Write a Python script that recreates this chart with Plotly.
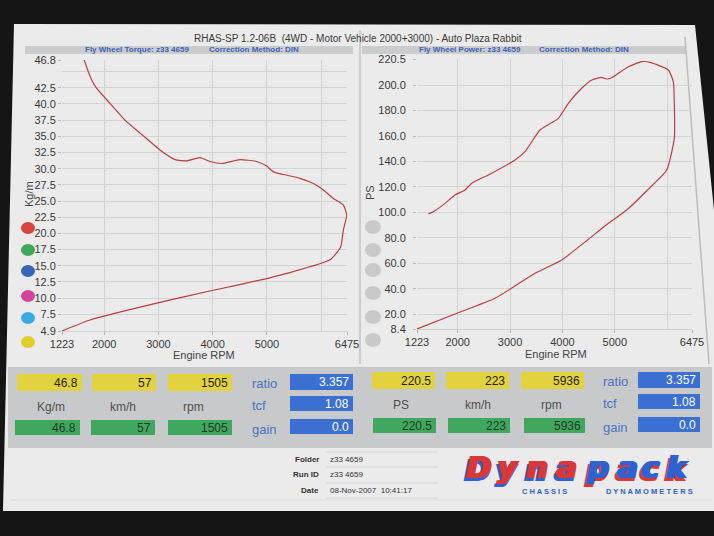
import plotly.graph_objects as go

# ---------------- data ----------------
torque_rpm = [1634, 1689, 1770, 1863, 2108, 2384, 2661, 3029, 3306, 3521, 3766, 3951, 4166,
              4503, 4811, 4996, 5117, 5302, 5609, 5855, 6039, 6223, 6407, 6470, 6407, 6359,
              6162, 5364, 4996, 4012, 2968, 1739, 1223]
torque_kgm = [46.8, 45.4, 43.7, 42.4, 40.1, 37.5, 35.5, 32.9, 31.4, 31.2, 31.7, 31.1, 30.8,
              31.4, 31.1, 30.4, 29.5, 29.1, 28.5, 27.7, 26.7, 25.4, 24.4, 22.8, 20.5, 17.9,
              15.9, 13.8, 13.0, 11.2, 9.2, 6.6, 4.9]

power_rpm = [1439, 1567, 1758, 1949, 2140, 2268, 2585, 3095, 3286, 3572, 3922, 4113, 4369,
             4560, 4751, 4846, 4942, 5259, 5515, 5673, 6023, 6118, 6137, 6137, 5992, 5625,
             5228, 4877, 3987, 3477, 2713, 1949, 1223]
power_ps = [98.7, 101.3, 107.1, 113.7, 117.6, 122.9, 129.4, 141.2, 147.7, 164.7, 173.9, 185.7,
            197.5, 204.0, 206.1, 204.8, 205.8, 214.4, 218.4, 217.9, 211.9, 202.7, 185.7, 158.2,
            133.3, 117.6, 101.9, 91.4, 62.6, 52.2, 32.5, 20.2, 8.4]

rpm_ticks = [1223, 2000, 3000, 4000, 5000, 6475]
rpm_grid = [2000, 3000, 4000, 5000, 6000]
torque_ticks = [4.9, 7.5, 10.0, 12.5, 15.0, 17.5, 20.0, 22.5, 25.0, 27.5, 30.0, 32.5, 35.0,
                37.5, 40.0, 42.5, 46.8]
torque_grid = [7.5, 10.0, 12.5, 15.0, 17.5, 20.0, 22.5, 25.0, 27.5, 30.0, 32.5, 35.0, 37.5,
               40.0, 42.5, 45.0]
power_ticks = [8.4, 20.0, 40.0, 60.0, 80.0, 100.0, 120.0, 140.0, 160.0, 180.0, 200.0, 220.5]
power_grid = [20.0, 40.0, 60.0, 80.0, 100.0, 120.0, 140.0, 160.0, 180.0, 200.0]

title_text = "RHAS-SP 1.2-06B\u00a0 (4WD - Motor Vehicle 2000+3000) - Auto Plaza Rabbit"
left_header = ["Fly Wheel Torque: z33 4659", "Correction Method: DIN"]
right_header = ["Fly Wheel Power: z33 4659", "Correction Method: DIN"]

left_top_values = ["46.8", "57", "1505"]
left_bottom_values = ["46.8", "57", "1505"]
left_units = ["Kg/m", "km/h", "rpm"]
right_top_values = ["220.5", "223", "5936"]
right_bottom_values = ["220.5", "223", "5936"]
right_units = ["PS", "km/h", "rpm"]
factor_labels = ["ratio", "tcf", "gain"]
left_factor_values = ["3.357", "1.08", "0.0"]
right_factor_values = ["3.357", "1.08", "0.0"]

footer_labels = ["Folder", "Run ID", "Date"]
footer_values = ["z33 4659", "z33 4659", "08-Nov-2007\u00a0\u00a010:41:17"]
logo_word = "Dynapack"
logo_sub = ["C H A S S I S", "D Y N A M O M E T E R S"]

# ---------------- helpers ----------------
W, H = 714, 536
FONT = "Liberation Sans, Arial, sans-serif"


def X(px):
    return px / W


def Y(py):
    return 1 - py / H


shapes = []
annotations = []


def rect(x0, y0, x1, y1, fill, line=None, layer="below"):
    shapes.append(dict(type="rect", xref="paper", yref="paper", x0=X(x0), x1=X(x1),
                       y0=Y(y1), y1=Y(y0), fillcolor=fill, layer=layer,
                       line=dict(width=0) if line is None else line))


def ellipse(cx, cy, rx, ry, fill):
    shapes.append(dict(type="circle", xref="paper", yref="paper", x0=X(cx - rx), x1=X(cx + rx),
                       y0=Y(cy + ry), y1=Y(cy - ry), fillcolor=fill, line=dict(width=0),
                       layer="above"))


def line(x0, y0, x1, y1, color, width=1):
    shapes.append(dict(type="line", xref="paper", yref="paper", x0=X(x0), x1=X(x1),
                       y0=Y(y0), y1=Y(y1), line=dict(color=color, width=width), layer="below"))


def text(x, y, s, size=11, color="#333", anchor="center", weight="normal", style="normal",
         family=FONT, angle=0, shadow="none"):
    annotations.append(dict(x=X(x), y=Y(y), xref="paper", yref="paper", text=s, showarrow=False,
                            xanchor=anchor, yanchor="middle", textangle=angle,
                            font=dict(size=size, color=color, family=family, weight=weight,
                                      style=style, shadow=shadow)))


# paper sheet
path = "M {} {} L {} {} L {} {} L {} {} L {} {} Z".format(
    X(14), Y(24), X(695), Y(25), X(714), Y(210), X(714), Y(511), X(3), Y(511))
shapes.append(dict(type="path", xref="paper", yref="paper", path=path, fillcolor="#ebebeb",
                   line=dict(width=0), layer="below"))

# header bands
rect(25, 46, 353, 54, "#cbcccd")
rect(362, 46, 686, 54, "#cbcccd")
line(360, 30, 360, 364, "#c2c2c2", 1.5)
line(685, 37, 709, 364, "#bdbdbd", 1.5)

HEAD_BLUE = "#3d63b3"
text(358, 38, title_text, size=10, color="#3a3a3a")
text(83, 50, left_header[0], size=8, color=HEAD_BLUE, anchor="left", weight="bold")
text(207, 50, left_header[1], size=8, color=HEAD_BLUE, anchor="left", weight="bold")
text(417, 50, right_header[0], size=8, color=HEAD_BLUE, anchor="left", weight="bold")
text(537, 50, right_header[1], size=8, color=HEAD_BLUE, anchor="left", weight="bold")

# axis titles
text(204, 355, "Engine RPM", size=11, color="#444")
text(556, 354, "Engine RPM", size=11, color="#444")
text(29, 194, "Kg/m", size=11, color="#444", angle=-90)
text(370, 193, "PS", size=11, color="#444", angle=-90)

# side dots
dot_colors = ["#d8463f", "#3ea75a", "#3a64b8", "#d3449d", "#3aa9e6", "#e0cd2a"]
dot_y = [228, 250, 271, 296, 318, 342]
for c, yy in zip(dot_colors, dot_y):
    ellipse(28, yy, 7, 6, c)
gray_y = [227, 250, 270, 293, 317, 340]
for yy in gray_y:
    ellipse(373, yy, 8, 7, "#c9c9c9")

# stats panel
rect(8, 367, 712, 448, "#c8c9cb")
YEL, GRN, BLU = "#e2d33e", "#3fa85e", "#3b70d2"


def panel(dy, top_vals, bot_vals, units, fvals, top_boxes, bot_boxes, unit_x, lab_x, blue_x):
    for (x0, x1), v in zip(top_boxes, top_vals):
        rect(x0, 374 + dy, x1, 391 + dy, YEL)
        text(x1 - 2, 383 + dy, v, size=12, color="#222", anchor="right")
    for (x0, x1), v in zip(bot_boxes, bot_vals):
        rect(x0, 420 + dy, x1, 435 + dy, GRN)
        text(x1 - 2, 428 + dy, v, size=12, color="#1f3a25", anchor="right")
    for ux, u in zip(unit_x, units):
        text(ux, 407 + dy, u, size=12, color="#505050")
    rows = [(374, 390), (396, 411), (419, 434)]
    ly = [383, 405, 429]
    for (y0, y1), yy, lab, v in zip(rows, ly, factor_labels, fvals):
        text(lab_x, yy + dy, lab, size=13, color="#4c72c4", anchor="left")
        rect(blue_x[0], y0 + dy, blue_x[1], y1 + dy, BLU)
        text(blue_x[1] - 2, (y0 + y1) / 2 + dy, v, size=12, color="#ffffff", anchor="right")


panel(0, left_top_values, left_bottom_values, left_units, left_factor_values,
      [(17, 82), (92, 156), (168, 232)], [(15, 80), (91, 155), (168, 232)],
      [51, 123, 194], 250, (290, 353))
panel(-2, right_top_values, right_bottom_values, right_units, right_factor_values,
      [(372, 435), (446, 509), (521, 584)], [(373, 436), (448, 510), (524, 585)],
      [401, 478, 551], 601, (638, 700))

# footer
for yy in [452, 467, 483, 498]:
    line(326, yy, 438, yy, "#d6d6d6", 1)
line(10, 500, 712, 500, "#dcdcdc", 1)
for yy, lab, val in zip([459, 474, 490], footer_labels, footer_values):
    text(321, yy, lab, size=8, color="#333", anchor="right", weight="bold")
    text(328, yy, val, size=8, color="#333", anchor="left")

# logo
RED, LBLUE = "#d8383a", "#2d62cf"
logo_x = [479, 507, 536, 566, 597, 627, 650, 677]
for i, (ch, lx) in enumerate(zip(logo_word, logo_x)):
    col, sh = (RED, LBLUE) if i < 4 else (LBLUE, RED)
    shadow = ("1px 0px 0px {c}, 2px 0px 0px {c}, 3px 0px 0px {c}, "
              "-2px 3px 0px {s}, 0px 3px 0px {s}, 2px 3px 0px {s}").format(c=col, s=sh)
    text(lx - 1, 467, ch, size=30, color=col, weight="bold", style="italic",
         family="DejaVu Sans, sans-serif", shadow=shadow)
text(544, 491, logo_sub[0], size=7.5, color=LBLUE, weight="bold")
text(649, 491, logo_sub[1], size=7.5, color=LBLUE, weight="bold")

# ---------------- figure ----------------
fig = go.Figure()
CURVE = "#b9403f"
fig.add_trace(go.Scatter(x=torque_rpm, y=torque_kgm, mode="lines", xaxis="x", yaxis="y",
                         line=dict(color=CURVE, width=1.2, shape="spline", smoothing=0.5),
                         showlegend=False, hoverinfo="skip"))
fig.add_trace(go.Scatter(x=power_rpm, y=power_ps, mode="lines", xaxis="x2", yaxis="y2",
                         line=dict(color=CURVE, width=1.2, shape="spline", smoothing=0.5),
                         showlegend=False, hoverinfo="skip"))

GRID = "#d3d3d3"
TICKF = dict(size=11, color="#3a3a3a", family=FONT)


def xaxis(domain, anchor):
    return dict(domain=domain, anchor=anchor, range=[1223, 6475], tickmode="array",
                tickvals=rpm_ticks, ticktext=[str(v) for v in rpm_ticks], showgrid=False,
                zeroline=False, automargin=False,
                ticks="outside", ticklen=3, tickcolor="#b5b5b5", tickfont=TICKF,
                showline=True, linecolor="#cfcfcf", linewidth=1,
                minor=dict(tickmode="array", tickvals=rpm_grid, showgrid=True,
                           gridcolor=GRID, gridwidth=1, ticks=""),
                fixedrange=True)


def yaxis(domain, rng, ticks, grid, anchor, standoff):
    return dict(domain=domain, range=rng, anchor=anchor, tickmode="array", tickvals=ticks,
                ticktext=["{:.1f}".format(v) for v in ticks], showgrid=False, zeroline=False,
                automargin=False,
                ticks="outside", ticklen=3, tickcolor="#b5b5b5", tickfont=TICKF,
                ticklabelstandoff=standoff, showline=False,
                minor=dict(tickmode="array", tickvals=grid, showgrid=True,
                           gridcolor=GRID, gridwidth=1, ticks=""),
                fixedrange=True)


fig.update_layout(
    template="none",
    width=W, height=H, autosize=False, margin=dict(l=0, r=0, t=0, b=0, pad=0),
    paper_bgcolor="#151515", plot_bgcolor="rgba(0,0,0,0)",
    font=dict(family=FONT),
    xaxis=xaxis([X(62), X(347)], "y"),
    yaxis=yaxis([Y(331), Y(60)], [4.9, 46.8], torque_ticks, torque_grid, "x", 0),
    xaxis2=xaxis([X(417), X(692)], "y2"),
    yaxis2=yaxis([Y(329), Y(59)], [8.4, 220.5], power_ticks, power_grid, "x2", 5),
    shapes=shapes, annotations=annotations,
)

fig.write_html(
    "out.html",
    config={"displayModeBar": False},
    post_script="document.body.style.margin='0';document.body.style.background='#151515';",
)
